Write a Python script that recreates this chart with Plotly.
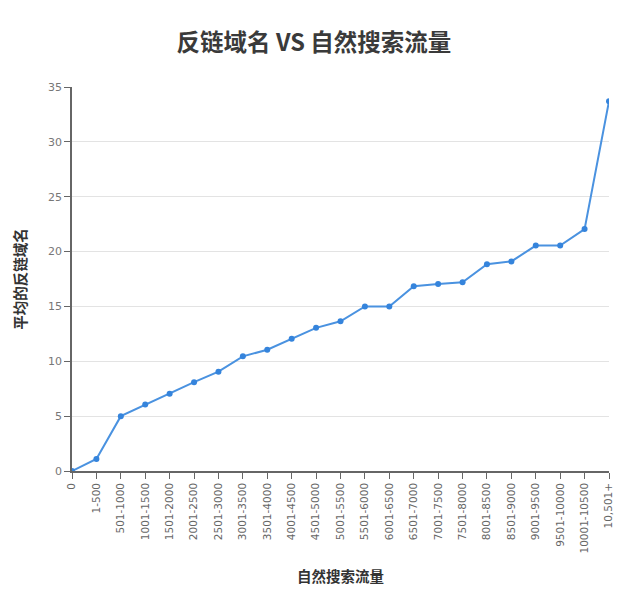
import plotly.graph_objects as go

# 自然搜索流量 buckets and average referring domains
traffic_bins = ['0', '1-500', '501-1000', '1001-1500', '1501-2000', '2001-2500',
                '2501-3000', '3001-3500', '3501-4000', '4001-4500', '4501-5000',
                '5001-5500', '5501-6000', '6001-6500', '6501-7000', '7001-7500',
                '7501-8000', '8001-8500', '8501-9000', '9001-9500', '9501-10000',
                '10001-10500', '10,501+']
avg_ref_domains = [0, 1.1, 5.0, 6.05, 7.05, 8.1, 9.05, 10.45, 11.05, 12.05, 13.05,
                   13.65, 15.0, 15.0, 16.85, 17.05, 17.2, 18.85, 19.1, 20.55, 20.55,
                   22.05, 33.7]
y_ticks = [0, 5, 10, 15, 20, 25, 30, 35]

cjk = 'Noto Sans CJK SC'
line_color = '#4a92e0'
axis_color = '#666666'

fig = go.Figure()
fig.add_trace(go.Scatter(
    x=list(range(len(traffic_bins))), y=avg_ref_domains,
    mode='lines+markers',
    line=dict(color=line_color, width=2),
    marker=dict(color='#3584dc', size=6),
    showlegend=False,
))

# page body adds an 8px offset, margins are set with that in mind
fig.update_layout(
    width=640, height=601,
    paper_bgcolor='white', plot_bgcolor='white',
    margin=dict(l=57, r=39, t=79, b=138),
    title=dict(text='<b>反链域名 VS 自然搜索流量</b>', x=0.478, xanchor='center',
               y=0.942, yanchor='middle',
               font=dict(family=cjk, size=23.5, color='#3a3a3a')),
    xaxis=dict(
        range=[0, len(traffic_bins) - 1],
        tickmode='array', tickvals=list(range(len(traffic_bins))), ticktext=traffic_bins,
        tickangle=-90, ticks='outside', ticklen=6, tickcolor=axis_color,
        showline=True, linecolor=axis_color, linewidth=1.5,
        showgrid=False, zeroline=False,
        tickfont=dict(family='DejaVu Sans', size=10.5, color='#666666'),
        title=dict(text='<b>自然搜索流量</b>', standoff=19,
                   font=dict(family=cjk, size=14.5, color='#333333')),
    ),
    yaxis=dict(
        range=[0, 35], tickvals=y_ticks,
        ticks='outside', ticklen=6, tickcolor=axis_color,
        showline=True, linecolor=axis_color, linewidth=1.5,
        showgrid=True, gridcolor='#e3e3e3', gridwidth=1, zeroline=False,
        tickfont=dict(family='DejaVu Sans', size=11, color='#777777'),
        title=dict(text='<b>平均的反链域名</b>', standoff=18,
                   font=dict(family=cjk, size=14.5, color='#333333')),
    ),
)

fig.write_html('out.html')
